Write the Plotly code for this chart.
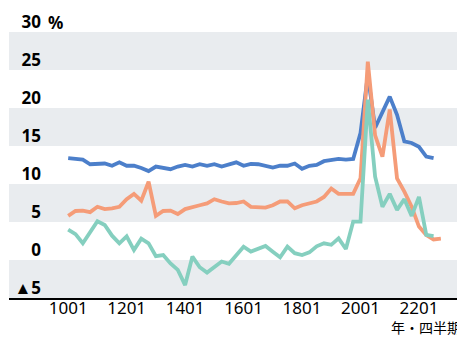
import plotly.graph_objects as go

quarters = list(range(52))
tick_vals = [0, 8, 16, 24, 32, 40, 48]
tick_text = ["1001", "1201", "1401", "1601", "1801", "2001", "2201"]

euro = [13.4, 13.3, 13.2, 12.6, 12.6, 12.7, 12.4, 12.85, 12.4, 12.4,
        12.1, 11.7, 12.3, 12.1, 11.95, 12.3, 12.5, 12.3, 12.6, 12.4,
        12.6, 12.3, 12.6, 12.85, 12.4, 12.65, 12.6, 12.4, 12.15, 12.4,
        12.4, 12.7, 12.0, 12.4, 12.5, 13.0, 13.2, 13.3, 13.2, 13.3,
        16.7, 24.3, 17.4, 19.5, 21.5, 19.1, 15.6, 15.4, 14.9, 13.6, 13.4]
us = [5.8, 6.45, 6.5, 6.3, 7.0, 6.7, 6.8, 7.0, 8.0, 8.7,
      7.8, 10.3, 5.8, 6.45, 6.5, 6.05, 6.7, 7.0, 7.2, 7.45,
      8.0, 7.7, 7.45, 7.5, 7.7, 7.0, 6.9, 6.9, 7.2, 7.7,
      7.7, 6.8, 7.2, 7.5, 7.7, 8.3, 9.4, 8.7, 8.7, 8.7,
      10.75, 26.1, 16.4, 13.6, 19.8, 10.75, 9.0, 7.0, 4.4, 3.3, 2.7, 2.8]
japan = [4.0, 3.4, 2.2, 3.7, 5.1, 4.6, 3.2, 2.2, 3.1, 1.3,
         2.8, 2.2, 0.5, 0.65, -0.45, -1.3, -3.3, 0.45, -0.95, -1.65,
         -0.9, -0.2, -0.5, 0.65, 1.75, 1.1, 1.45, 1.85, 1.1, 0.35,
         1.75, 0.9, 0.65, 1.0, 1.8, 2.2, 2.0, 2.85, 1.45, 5.05,
         5.05, 21.1, 10.95, 7.0, 8.7, 6.6, 8.0, 5.8, 8.3, 3.3, 3.15]

y_vals = [-5, 0, 5, 10, 15, 20, 25, 30]
y_text = ["▲5", "0", "5", "10", "15", "20", "25", "30"]
bands = [(-5, 0), (5, 10), (15, 20), (25, 30)]

fig = go.Figure()
series = [("ユーロ圏", euro, "#4C7FCA"), ("米国", us, "#F59C78"), ("日本", japan, "#85CFBF")]
for name, vals, col in series:
    fig.add_trace(go.Scatter(x=quarters[:len(vals)], y=vals, mode="lines", name=name,
                             line=dict(color=col, width=3.8), hoverinfo="skip"))

for lo, hi in bands:
    fig.add_shape(type="rect", xref="paper", yref="y", x0=0, x1=1, y0=lo, y1=hi,
                  fillcolor="#E9ECEF", line_width=0, layer="below")

fig.add_annotation(text="%", xref="paper", yref="y", x=0, y=30, xshift=37,
                   yshift=10, xanchor="left", yanchor="middle", showarrow=False,
                   font=dict(family="Noto Sans", size=17, color="black", weight="bold"))
fig.add_annotation(text="年・四半期", xref="paper", yref="paper", x=1, y=0,
                   xanchor="right", yanchor="bottom", yshift=-40, xshift=-3, showarrow=False,
                   borderpad=0,
                   font=dict(family="Noto Sans CJK JP", size=14, color="black"))

# page body has an 8px default margin, so the figure is sized to fit the window
fig.update_layout(
    width=457, height=330,
    margin=dict(l=1, r=0, t=24, b=40, pad=0),
    paper_bgcolor="white", plot_bgcolor="white",
    showlegend=False,
    font=dict(family="Noto Sans", color="black"),
    xaxis=dict(range=[-8.1, 54.3], tickmode="array", tickvals=tick_vals, ticktext=tick_text,
               automargin=False, ticklabelstandoff=-6,
               showgrid=False, zeroline=False, showline=True, linecolor="black", linewidth=1.5,
               ticks="", tickfont=dict(size=17, family="Noto Sans", color="black")),
    yaxis=dict(range=[-5, 30], tickmode="array", tickvals=y_vals, ticktext=y_text,
               automargin=False,
               showgrid=False, zeroline=False, showline=False, ticks="",
               ticklabelposition="outside", ticklabelstandoff=-33, ticklabelshift=-10,
               tickfont=dict(size=17, family="Noto Sans", color="black", weight="bold")),
)

fig.write_html("out.html")
